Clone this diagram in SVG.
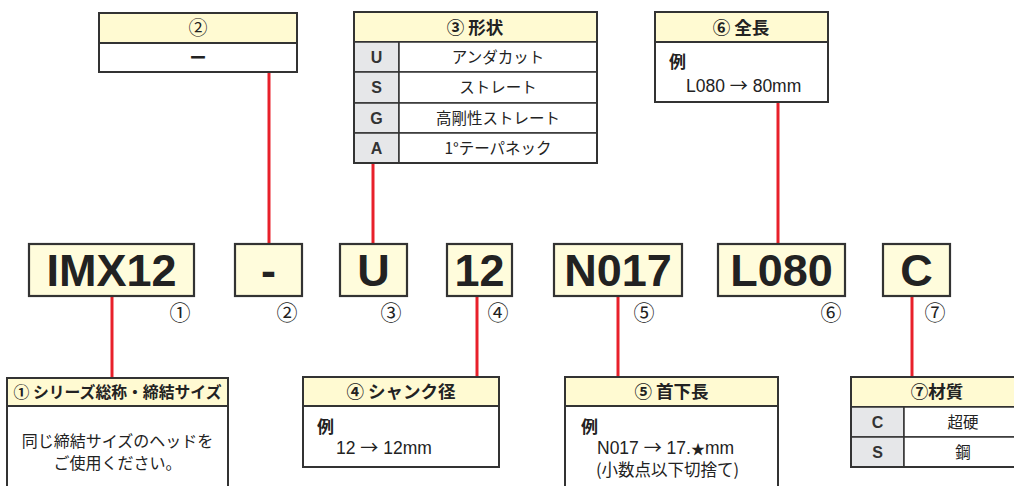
<svg xmlns="http://www.w3.org/2000/svg" width="1014" height="486" viewBox="0 0 1014 486">
<style>
.bx{fill:#fff;stroke:#333;stroke-width:2}
.hd{fill:#FFFAD2;stroke:#333;stroke-width:2}
.lc{fill:#E6E7E9;stroke:#333;stroke-width:1.5}
.cell{fill:#fff;stroke:#333;stroke-width:1.5}
.mb{fill:#FFFCDC;stroke:#333;stroke-width:2.2}
.mt{font-family:"Liberation Sans",Arial,sans-serif;font-weight:bold;font-size:45px;fill:#222;text-anchor:middle}
.ht{font-family:"Noto Sans CJK JP","Liberation Sans",sans-serif;font-weight:bold;font-size:17.5px;fill:#222;text-anchor:middle}
.rt{font-family:"Noto Sans CJK JP","Liberation Sans",sans-serif;font-size:15.5px;fill:#222;text-anchor:middle}
.lt{font-family:"Liberation Sans",Arial,sans-serif;font-weight:bold;font-size:16px;fill:#333;text-anchor:middle}
.bt{font-family:"Liberation Sans","Noto Sans CJK JP",sans-serif;font-size:17.5px;fill:#222}
.ar{font-family:"Noto Sans CJK JP",sans-serif;font-size:18px}
.jt{font-family:"Noto Sans CJK JP","Liberation Sans",sans-serif;font-size:16px;fill:#222}
.ex{font-family:"Noto Sans CJK JP",sans-serif;font-weight:bold;font-size:17px;fill:#222}
.num{font-family:"Noto Sans CJK JP","DejaVu Sans",sans-serif;font-size:21px;fill:#222;text-anchor:middle}
.rl{stroke:#E8202A;stroke-width:3;fill:none}
</style>
<g id="connectors">
<line class="rl" x1="269" y1="72" x2="269" y2="244"/>
<line class="rl" x1="373" y1="163" x2="373" y2="244"/>
<line class="rl" x1="778" y1="102" x2="778" y2="244"/>
<line class="rl" x1="112" y1="296" x2="112" y2="378"/>
<line class="rl" x1="477" y1="296" x2="477" y2="377"/>
<line class="rl" x1="618" y1="296" x2="618" y2="377"/>
<line class="rl" x1="912" y1="296" x2="912" y2="377"/>
</g>
<g id="box2">
<rect class="hd" x="99" y="13" width="198" height="30"/>
<rect class="bx" x="99" y="43" width="198" height="29"/>
<text class="rt" x="198" y="35" style="font-size:19px">②</text>
<text class="rt" x="198" y="64" style="font-weight:bold;font-size:17px">ー</text>
</g>
<g id="box3">
<rect class="hd" x="354" y="12" width="243" height="30"/>
<rect class="lc" x="354" y="42" width="45" height="30"/>
<rect class="cell" x="399" y="42" width="198" height="30"/>
<rect class="lc" x="354" y="72" width="45" height="31"/>
<rect class="cell" x="399" y="72" width="198" height="31"/>
<rect class="lc" x="354" y="103" width="45" height="30"/>
<rect class="cell" x="399" y="103" width="198" height="30"/>
<rect class="lc" x="354" y="133" width="45" height="30"/>
<rect class="cell" x="399" y="133" width="198" height="30"/>
<rect x="354" y="12" width="243" height="151" fill="none" stroke="#333" stroke-width="2"/>
<text class="ht" x="475" y="34">③ 形状</text>
<text class="lt" x="376.5" y="63">U</text>
<text class="rt" x="498" y="63">アンダカット</text>
<text class="lt" x="376.5" y="93">S</text>
<text class="rt" x="498" y="93">ストレート</text>
<text class="lt" x="376.5" y="124">G</text>
<text class="rt" x="498" y="124">高剛性ストレート</text>
<text class="lt" x="376.5" y="154">A</text>
<text class="rt" x="498" y="154">1°テーパネック</text>
</g>
<g id="box6">
<rect class="hd" x="655" y="12" width="173" height="30"/>
<rect class="bx" x="655" y="42" width="173" height="60"/>
<text class="ht" x="741" y="34">⑥ 全長</text>
<text class="ex" x="669" y="68">例</text>
<text class="bt" x="686" y="92">L080 <tspan class="ar">→</tspan> 80mm</text>
</g>
<g id="part1">
<rect class="mb" x="29" y="244" width="165" height="52"/>
<text class="mt" x="111.5" y="286">IMX12</text>
<text class="num" x="180" y="320">①</text>
</g>
<g id="part2">
<rect class="mb" x="235" y="244" width="67" height="52"/>
<text class="mt" x="268.5" y="286">-</text>
<text class="num" x="287" y="320">②</text>
</g>
<g id="part3">
<rect class="mb" x="340" y="244" width="67" height="52"/>
<text class="mt" x="373.5" y="286">U</text>
<text class="num" x="391" y="320">③</text>
</g>
<g id="part4">
<rect class="mb" x="447" y="244" width="65" height="52"/>
<text class="mt" x="479.5" y="286">12</text>
<text class="num" x="498" y="320">④</text>
</g>
<g id="part5">
<rect class="mb" x="554" y="244" width="128" height="52"/>
<text class="mt" x="618" y="286">N017</text>
<text class="num" x="644" y="320">⑤</text>
</g>
<g id="part6">
<rect class="mb" x="718" y="244" width="127" height="52"/>
<text class="mt" x="781.5" y="286">L080</text>
<text class="num" x="831" y="320">⑥</text>
</g>
<g id="part7">
<rect class="mb" x="883" y="244" width="67" height="52"/>
<text class="mt" x="916.5" y="286">C</text>
<text class="num" x="935" y="320">⑦</text>
</g>
<g id="box1">
<rect class="hd" x="7" y="378" width="221" height="28"/>
<rect class="bx" x="7" y="406" width="221" height="96"/>
<text class="ht" x="117.5" y="398" style="font-size:16px" textLength="208" lengthAdjust="spacingAndGlyphs">① シリーズ総称・締結サイズ</text>
<text class="jt" x="117.5" y="447" text-anchor="middle">同じ締結サイズのヘッドを</text>
<text class="jt" x="117.5" y="469" text-anchor="middle">ご使用ください。</text>
</g>
<g id="box4">
<rect class="hd" x="303" y="377" width="196" height="29"/>
<rect class="bx" x="303" y="406" width="196" height="61"/>
<text class="ht" x="401" y="398">④ シャンク径</text>
<text class="ex" x="317" y="433">例</text>
<text class="bt" x="336" y="454">12 <tspan class="ar">→</tspan> 12mm</text>
</g>
<g id="box5">
<rect class="hd" x="565" y="377" width="213" height="29"/>
<rect class="bx" x="565" y="406" width="213" height="96"/>
<text class="ht" x="671.5" y="398">⑤ 首下長</text>
<text class="ex" x="581" y="433">例</text>
<text class="bt" x="597" y="454">N017 <tspan class="ar">→</tspan> 17.<tspan style="font-size:14px">★</tspan>mm</text>
<text class="jt" x="596" y="476" style="font-size:16.5px">(小数点以下切捨て)</text>
</g>
<g id="box7">
<rect class="hd" x="851" y="377" width="171" height="30"/>
<rect class="lc" x="851" y="407" width="53" height="30"/>
<rect class="cell" x="904" y="407" width="118" height="30"/>
<rect class="lc" x="851" y="437" width="53" height="30"/>
<rect class="cell" x="904" y="437" width="118" height="30"/>
<rect x="851" y="377" width="171" height="90" fill="none" stroke="#333" stroke-width="2"/>
<text class="ht" x="937" y="398">⑦材質</text>
<text class="lt" x="877.5" y="428">C</text>
<text class="rt" x="963" y="428">超硬</text>
<text class="lt" x="877.5" y="458">S</text>
<text class="rt" x="963" y="458">鋼</text>
</g>
</svg>
